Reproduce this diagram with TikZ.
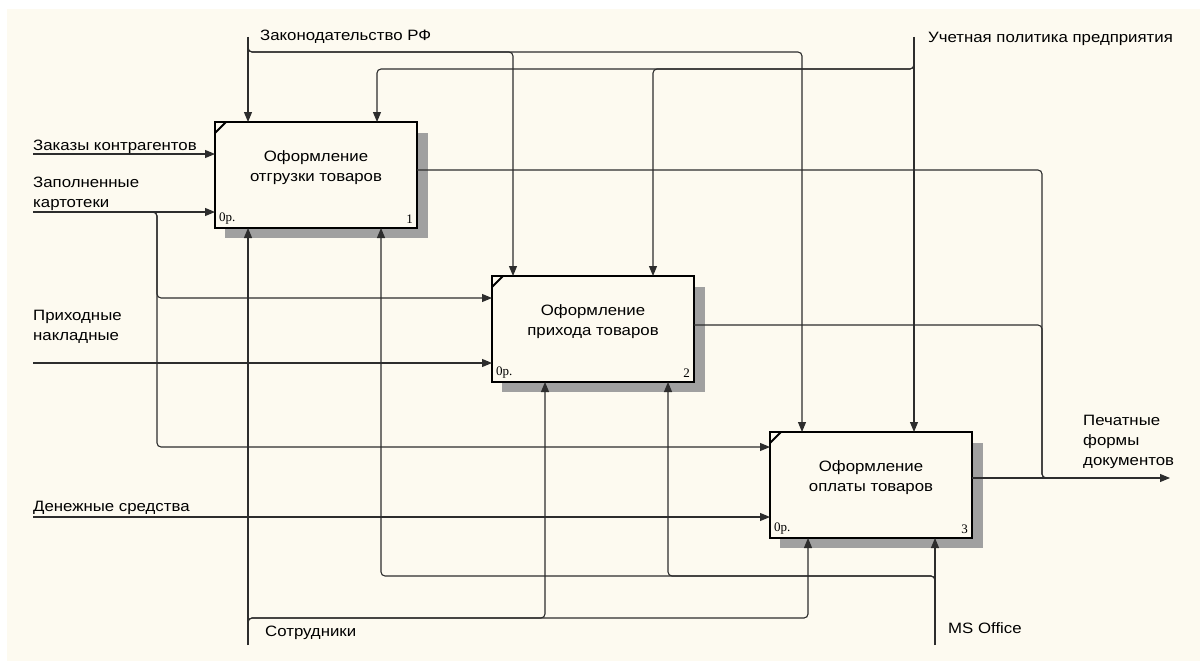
\documentclass[tikz,border=0pt]{standalone}
\usepackage{fontspec}
\setmainfont[FakeStretch=1.12]{Liberation Sans}
\newfontfamily\idxfont{Liberation Serif}
\usetikzlibrary{positioning,calc,backgrounds,arrows.meta}
\definecolor{paper}{RGB}{253,250,240}
\definecolor{wire}{RGB}{45,45,45}
\definecolor{shadowgray}{RGB}{160,160,160}

\begin{document}
\begin{tikzpicture}[x=1pt,y=-1pt,
	fbox/.style={rectangle,draw=black,fill=paper,line width=2pt,outer sep=0pt,inner sep=0pt,minimum width=202pt,minimum height=106pt},
	btext/.style={align=center,anchor=center,yshift=-46pt,font=\fontsize{15}{20}\selectfont},
	idx/.style={inner sep=4pt,font=\idxfont\fontsize{13}{13}\selectfont},
	lbl/.style={anchor=base west,inner sep=0pt,align=left,font=\fontsize{15}{20}\selectfont},
	wire/.style={draw=wire,line width=1.1pt,rounded corners=4pt},
	arr/.style={wire,-{Triangle[length=10pt,width=8pt]}}]
	\useasboundingbox (0,0) rectangle (1200,661);

	% functions
	\node[fbox,anchor=north west,
		label={[btext,name=b1t]above:Оформление\\отгрузки товаров}] (b1) at (215,122) {};
	\node[fbox,below right=48pt and 75pt of b1,
		label={[btext,name=b2t]above:Оформление\\прихода товаров}] (b2) {};
	\node[fbox,below right=50pt and 76pt of b2,
		label={[btext,name=b3t]above:Оформление\\оплаты товаров}] (b3) {};
	\foreach \bx/\n in {b1/1,b2/2,b3/3} {
		\draw[line width=2pt] ($(\bx.north west)+(0,11)$) -- ($(\bx.north west)+(11,0)$);
		\node[idx,anchor=south west] (\bx r) at (\bx.south west) {0р.};
		\node[idx,anchor=south east] (\bx n) at (\bx.south east) {\n};
	}

	% controls
	\coordinate (zf) at (248,37);
	\coordinate (uc) at (914,37);
	\coordinate (lawbus) at (248,52);
	\coordinate (polbus) at (914,69);
	\coordinate (b1c2) at ($(b1.north west)+(162,0)$);
	\coordinate (b2c1) at ($(b2.north west)+(21,0)$);
	\coordinate (b2c2) at ($(b2.north west)+(161,0)$);
	\coordinate (b3c1) at ($(b3.north west)+(32,0)$);
	\draw[arr] (zf) -- (zf |- b1.north);
	\draw[arr] ($(lawbus)+(0,-8)$) -- (lawbus) -| (b2c1);
	\draw[arr] ($(lawbus)+(0,-8)$) -- (lawbus) -| (b3c1);
	\draw[arr] (uc) -- (uc |- b3.north);
	\draw[arr] ($(polbus)+(0,-8)$) -- (polbus) -| (b2c2);
	\draw[arr] ($(polbus)+(0,-8)$) -- (polbus) -| (b1c2);

	% inputs
	\coordinate (zk) at (33,154);
	\coordinate (kt) at (33,212);
	\coordinate (pn) at (33,363);
	\coordinate (ds) at (33,517);
	\coordinate (ktbus) at (157,212);
	\coordinate (b2i1) at ($(b2.north west)+(0,22)$);
	\coordinate (b3i1) at ($(b3.north west)+(0,15)$);
	\draw[arr] (zk) -- (zk -| b1.west);
	\draw[arr] (kt) -- (kt -| b1.west);
	\draw[arr] ($(ktbus)+(-8,0)$) -- (ktbus) |- (b2i1);
	\draw[arr] ($(ktbus)+(-8,0)$) -- (ktbus) |- (b3i1);
	\draw[arr] (pn) -- (pn -| b2.west);
	\draw[arr] (ds) -- (ds -| b3.west);

	% outputs
	\coordinate (pf) at (1170,478);
	\coordinate (obus) at (1042,478);
	\draw[wire] ($(b1.north east)+(0,48)$) -| (obus) -- ++(8,0);
	\draw[wire] ($(b2.north east)+(0,49)$) -| (obus) -- ++(8,0);
	\draw[arr] (pf -| b3.east) -- (pf);

	% mechanisms
	\coordinate (st) at (248,645);
	\coordinate (ms) at (935,645);
	\coordinate (stbus) at (248,618);
	\coordinate (msbus) at (935,576);
	\coordinate (b1m2) at ($(b1.south west)+(166,0)$);
	\coordinate (b2m1) at ($(b2.south west)+(53,0)$);
	\coordinate (b2m2) at ($(b2.south west)+(176,0)$);
	\coordinate (b3m1) at ($(b3.south west)+(38,0)$);
	\draw[arr] (st) -- (st |- b1.south);
	\draw[arr] ($(stbus)+(0,8)$) -- (stbus) -| (b2m1);
	\draw[arr] ($(stbus)+(0,8)$) -- (stbus) -| (b3m1);
	\draw[arr] (ms) -- (ms |- b3.south);
	\draw[arr] ($(msbus)+(0,8)$) -- (msbus) -| (b2m2);
	\draw[arr] ($(msbus)+(0,8)$) -- (msbus) -| (b1m2);

	% arrow labels
	\node[lbl] (tzf) at (260,41) {Законодательство РФ};
	\node[lbl] (tuc) at (928,43) {Учетная политика предприятия};
	\node[lbl] (tzk) at (33,150) {Заказы контрагентов};
	\node[lbl] (tkt) at (33,207) {Заполненные\\картотеки};
	\node[lbl] (tpn) at (33,340) {Приходные\\накладные};
	\node[lbl] (tds) at (33,511) {Денежные средства};
	\node[lbl] (tst) at (265,636) {Сотрудники};
	\node[lbl] (tms) at (948,633) {MS Office};
	\node[lbl] (tpf) at (1083,465) {Печатные\\формы\\документов};

	\begin{scope}[on background layer]
		\fill[white] (0,0) rectangle (1200,661);
		\fill[paper] (7,9) rectangle (1200,661);
		\foreach \bx in {b1,b2,b3}
			\fill[shadowgray] ($(\bx.south west)+(10,10)$) rectangle ($(\bx.north east)+(11,11)$);
	\end{scope}
\end{tikzpicture}
\end{document}
